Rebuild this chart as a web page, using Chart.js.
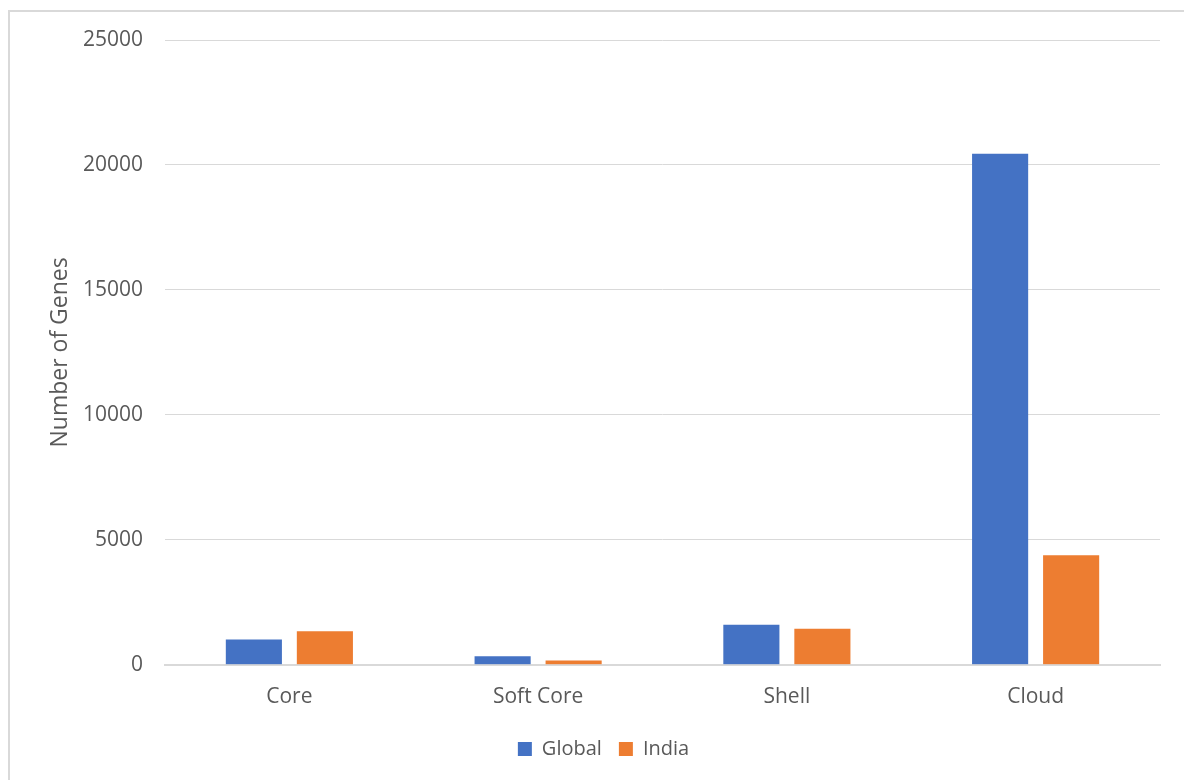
<!DOCTYPE html>
<html>
<head>
<meta charset="utf-8">
<script src="https://cdn.jsdelivr.net/npm/chart.js@4.4.1/dist/chart.umd.min.js"></script>
<style>
    body { margin: 0; background: #fff; }
    #frame {
        position: absolute; left: 8px; top: 10px;
        width: 1200px; height: 800px;
        border: 2px solid #d9d9d9;
    }
    #wrap { position: absolute; left: 0; top: 0; width: 1184px; height: 780px; }
</style>
</head>
<body>
<div id="frame"></div>
<div id="wrap"><canvas id="grafico-genes"></canvas></div>
<script>
const categorias = ['Core', 'Soft Core', 'Shell', 'Cloud'];
const valoresGlobal = [1010, 340, 1600, 20450];
const valoresIndia = [1340, 170, 1440, 4380];
const ticksY = [0, 5000, 10000, 15000, 20000, 25000];

const corTexto = '#595959';
const corGrade = '#d9d9d9';
const fonte = "'Open Sans', sans-serif";

const ctxGenes = document.getElementById('grafico-genes');

var graficoGenes = new Chart(ctxGenes, {
    type: 'bar',
    data: {
        labels: categorias,
        datasets: [
            {
                label: 'Global',
                data: valoresGlobal,
                backgroundColor: '#4472c4',
                barPercentage: 0.79,
                categoryPercentage: 0.571
            },
            {
                label: 'India',
                data: valoresIndia,
                backgroundColor: '#ed7d31',
                barPercentage: 0.79,
                categoryPercentage: 0.571
            }
        ]
    },
    options: {
        responsive: true,
        maintainAspectRatio: false,
        animation: false,
        layout: {
            padding: { left: 47, right: 24, top: 40, bottom: 11 }
        },
        scales: {
            x: {
                grid: { display: false },
                border: { color: corGrade, width: 2 },
                ticks: { color: corTexto, font: { family: fonte, size: 21 }, padding: 12 }
            },
            y: {
                min: 0,
                max: 25000,
                afterBuildTicks: function (scale) {
                    scale.ticks = ticksY.map(v => ({ value: v }));
                },
                afterFit: function (scale) {
                    scale.width = 118;
                },
                grid: { color: corGrade, lineWidth: 1, drawTicks: false },
                border: { display: false },
                ticks: {
                    color: corTexto,
                    font: { family: fonte, size: 21 },
                    padding: 22,
                    callback: function (valor) { return String(valor); }
                },
                title: {
                    display: true,
                    text: 'Number of Genes',
                    color: corTexto,
                    font: { family: fonte, size: 23 },
                    padding: 0
                }
            }
        },
        plugins: {
            legend: {
                position: 'bottom',
                labels: {
                    color: corTexto,
                    font: { family: fonte, size: 20 },
                    boxWidth: 14,
                    boxHeight: 14,
                    padding: 17
                }
            },
            tooltip: { enabled: false }
        }
    }
});
</script>
</body>
</html>
